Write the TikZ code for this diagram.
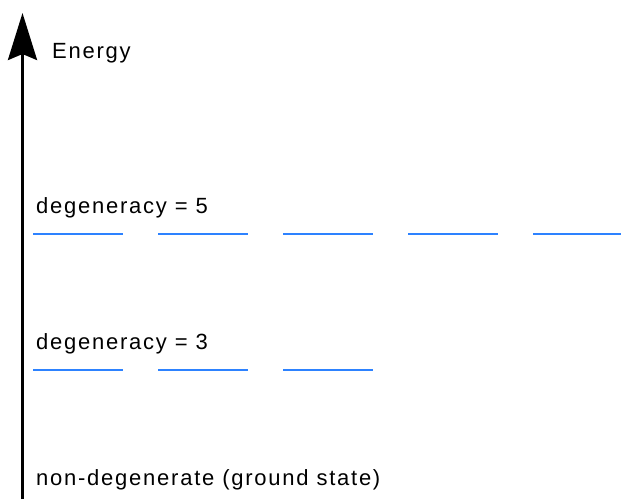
\documentclass[tikz,border=0pt]{standalone}
\usepackage{fontspec}
\setmainfont{Liberation Sans}[LetterSpace=8]
\usetikzlibrary{arrows.meta}
\definecolor{levelblue}{RGB}{45,130,255}

\begin{document}
\begin{tikzpicture}
    [x=1pt,y=-1pt,
    axis line/.style={line width=3pt,-{Stealth[length=47pt,width=29pt,inset=6pt]}},
    level line/.style={line width=2.5pt,levelblue},
    level label/.style={anchor=base west,inner sep=0pt,font=\fontsize{22}{26}\selectfont},
    ]
    \useasboundingbox (0,0) rectangle (621,499);

    %axis
    \coordinate (AxisBase) at (22.5,499);
    \coordinate (AxisTop) at (22.5,13);
    \draw[axis line] (AxisBase) -- (AxisTop);
    \node[level label] (EnergyLabel) at (52,58) {Energy};

    %levels
    \node[level label] (FiveLabel) at (36,213) {degeneracy = 5};
    \foreach \i in {0,...,4}
        \draw[level line] (33+125*\i,234) -- +(90,0);
    \node[level label] (ThreeLabel) at (36,349) {degeneracy = 3};
    \foreach \i in {0,...,2}
        \draw[level line] (33+125*\i,370) -- +(90,0);
    \node[level label] (GroundLabel) at (36,485) {non-degenerate (ground state)};

\end{tikzpicture}
\end{document}
